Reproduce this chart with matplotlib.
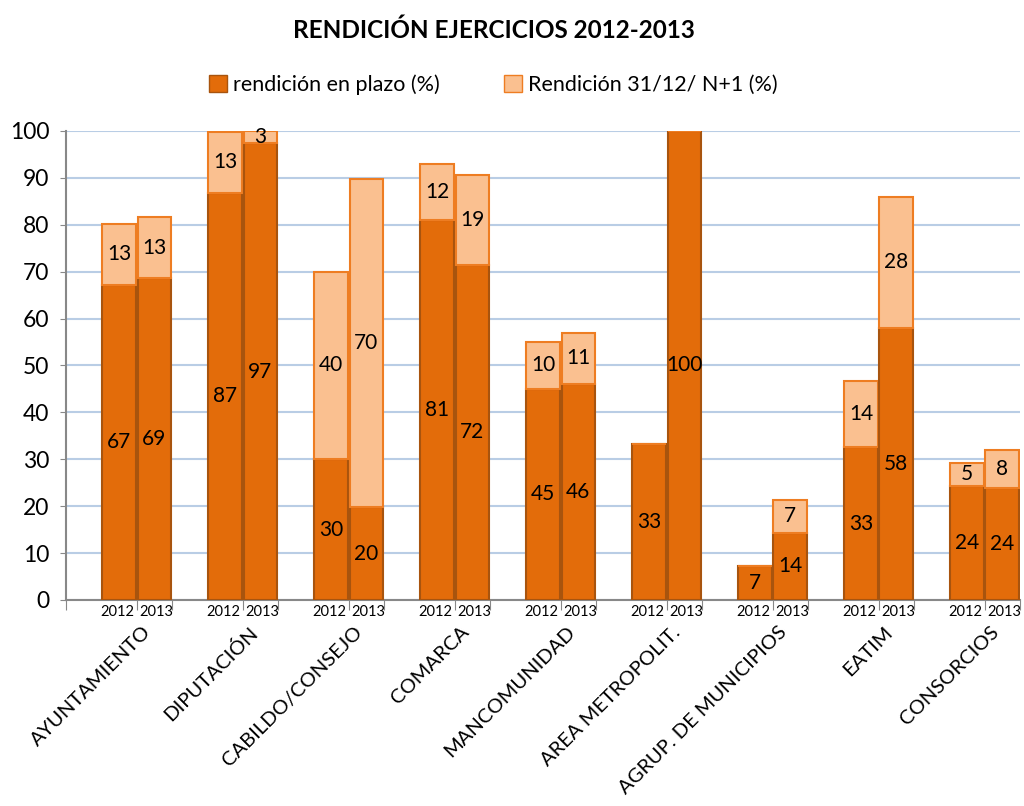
import numpy as np
import matplotlib.pyplot as plt
from matplotlib.transforms import blended_transform_factory

plt.rcParams['font.family'] = ['Lato', 'DejaVu Sans']

# Data (percent)
categories = ['AYUNTAMIENTO', 'DIPUTACIÓN', 'CABILDO/CONSEJO', 'COMARCA',
              'MANCOMUNIDAD', 'AREA METROPOLIT.', 'AGRUP. DE MUNICIPIOS',
              'EATIM', 'CONSORCIOS']
years = ['2012', '2013']
plazo_2012 = [67.2, 86.8, 30, 81, 45, 33.3, 7.2, 32.6, 24.3]
plazo_2013 = [68.6, 97.4, 19.8, 71.5, 46, 100, 14.3, 58, 23.9]
extra_2012 = [13, 13, 40, 12, 10, 0, 0, 14, 5]
extra_2013 = [13, 3, 70, 19, 11, 0, 7, 28, 8]

dark = '#E36C0A'
dark_edge = '#A8540E'
light = '#FAC090'
light_edge = '#EE7D22'

fig = plt.figure(figsize=(10.24, 8.06), dpi=100)
ax = fig.add_axes([0.0645, 0.2556, 0.9315, 0.582])

n = len(categories)
x12 = np.arange(n) * 3 + 1.5
x13 = np.arange(n) * 3 + 2.5
w = 0.95

for xs, base, extra in [(x12, plazo_2012, extra_2012), (x13, plazo_2013, extra_2013)]:
    base = np.array(base, dtype=float)
    extra = np.array(extra, dtype=float)
    top = np.minimum(base + extra, 100) - base
    ax.bar(xs, base, width=w, color=dark, edgecolor=dark_edge, linewidth=1.5, zorder=3)
    ax.bar(xs, top, width=w, bottom=base, color=light, edgecolor=light_edge,
           linewidth=1.5, zorder=3)
    for xi, b, e, t in zip(xs, base, extra, top):
        ax.text(xi, b / 2, f'{b:.0f}', ha='center', va='center', fontsize=15, zorder=4)
        if e > 0:
            ax.text(xi, b + t / 2, f'{e:.0f}', ha='center', va='center', fontsize=15, zorder=4)

# legend handles
ax.bar([0], [0], color=dark, edgecolor=dark_edge, label='rendición en plazo (%)')
ax.bar([0], [0], color=light, edgecolor=light_edge, label='Rendición 31/12/ N+1 (%)')

ax.set_xlim(0, 3 * n)
ax.set_ylim(0, 100)
ax.set_yticks(np.arange(0, 101, 10))
ax.tick_params(axis='y', labelsize=16.5, length=4, color='#888888', pad=8)
ax.yaxis.grid(True, color='#B9CDE5', linewidth=1.5, zorder=0)

xt = sorted(list(np.arange(n + 1) * 3) + list(np.arange(n) * 3 + 2))
ax.set_xticks(xt)
ax.set_xticklabels([''] * len(xt))
ax.tick_params(axis='x', length=7, color='#888888', direction='out')

for s in ['top', 'right']:
    ax.spines[s].set_visible(False)
for s in ['left', 'bottom']:
    ax.spines[s].set_color('#888888')
    ax.spines[s].set_linewidth(1.5)

tr = blended_transform_factory(ax.transData, ax.transAxes)
for i in range(n):
    ax.text(x12[i] - 0.05, -0.01, years[0], transform=tr, ha='center', va='top', fontsize=10.5)
    ax.text(x13[i] + 0.05, -0.01, years[1], transform=tr, ha='center', va='top', fontsize=10.5)
    ax.text(x12[i] + 0.65, -0.05, categories[i], transform=tr, rotation=45,
            rotation_mode='anchor', ha='right', va='top', fontsize=14.5)

fig.text(0.482, 0.962, 'RENDICIÓN EJERCICIOS 2012-2013', ha='center', va='center',
         fontsize=17.5, fontweight='bold')
fig.legend(loc='center', bbox_to_anchor=(0.482, 0.895), ncol=2, frameon=False,
           fontsize=15.5, handlelength=0.8, handleheight=0.8, handletextpad=0.3,
           columnspacing=3)

fig.savefig('out.png', dpi=100)
